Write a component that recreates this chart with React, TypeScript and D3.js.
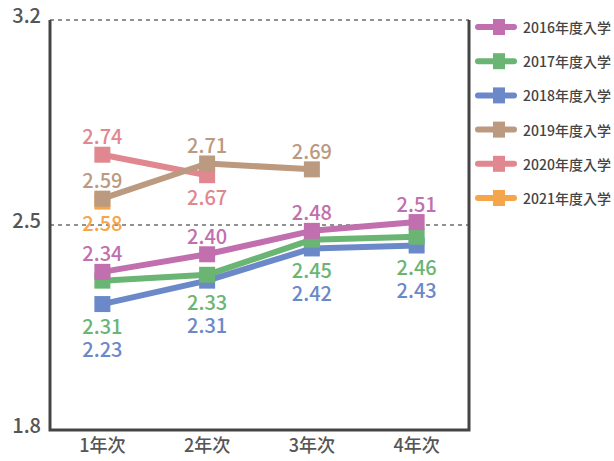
import React from "react";
import * as d3 from "d3";

const categories = ["1年次", "2年次", "3年次", "4年次"];
const seriesNames = ["2016年度入学", "2017年度入学", "2018年度入学", "2019年度入学", "2020年度入学", "2021年度入学"];
const s2016 = [2.34, 2.40, 2.48, 2.51];
const s2017 = [2.31, 2.33, 2.45, 2.46];
const s2018 = [2.23, 2.31, 2.42, 2.43];
const s2019 = [2.59, 2.71, 2.69];
const s2020 = [2.74, 2.67];
const s2021 = [2.58];
const seriesValues = [s2016, s2017, s2018, s2019, s2020, s2021];
const seriesColors = ["#c16fae", "#6ab574", "#6b89c9", "#bb9a80", "#e0878f", "#f5a54b"];
const labelSide = ["top", "bottom", "bottom", "top", "top", "bottom"];
const yTicks = [1.8, 2.5, 3.2];

const W = 614, H = 461;
const X0 = 50, X1 = 469, Y0 = 430, Y1 = 20;
const FONT = "'Noto Sans CJK JP', 'Noto Sans', sans-serif";

export default function App() {
  const x = d3.scaleBand<string>().domain(categories).range([X0, X1]);
  const cx = (c: string) => (x(c) as number) + x.bandwidth() / 2;
  const y = d3.scaleLinear().domain([1.8, 3.2]).range([Y0, Y1]);
  const line = d3.line<number>().x((_, i) => cx(categories[i])).y((v) => y(v));

  const MK = 8, LH = 10, GAP = 3, OFF_TOP = 19, OFF_BOT = 21;
  const markers: { ci: number; y: number }[] = [];
  seriesValues.forEach((vals) => vals.forEach((v, i) => markers.push({ ci: i, y: y(v) })));
  const placed: { ci: number; y: number; si: number; v: number }[] = [];
  const collides = (ci: number, ly: number) => {
    for (const m of markers) if (m.ci === ci && ly + LH > m.y - MK && ly - LH < m.y + MK) return true;
    for (const p of placed) if (p.ci === ci && ly + LH > p.y - LH && ly - LH < p.y + LH) return true;
    return false;
  };
  seriesValues.forEach((vals, si) => {
    vals.forEach((v, ci) => {
      const py = y(v);
      const top = py - OFF_TOP, bot = py + OFF_BOT;
      const pref = labelSide[si] === "top" ? top : bot;
      const alt = labelSide[si] === "top" ? bot : top;
      let ly = pref;
      if (collides(ci, pref)) {
        if (!collides(ci, alt)) ly = alt;
        else {
          const dir = labelSide[si] === "top" ? -1 : 1;
          let guard = 0;
          while (collides(ci, ly) && guard < 200) {
            let next = ly + dir;
            for (const m of markers)
              if (m.ci === ci && ly + LH > m.y - MK && ly - LH < m.y + MK)
                next = dir > 0 ? Math.max(next, m.y + MK + GAP + LH) : Math.min(next, m.y - MK - GAP - LH);
            for (const p of placed)
              if (p.ci === ci && ly + LH > p.y - LH && ly - LH < p.y + LH)
                next = dir > 0 ? Math.max(next, p.y + 2 * LH + GAP) : Math.min(next, p.y - 2 * LH - GAP);
            ly = next;
            guard++;
          }
        }
      }
      placed.push({ ci, y: ly, si, v });
    });
  });

  const order = seriesValues.map((_, i) => i).reverse();

  return (
    <svg width={W} height={H} style={{ position: "absolute", left: 0, top: 0, background: "#fff" }} fontFamily={FONT} fontWeight={500}>
      {[2.5, 3.2].map((t) => (
        <line key={t} x1={X0} x2={X1} y1={y(t)} y2={y(t)} stroke="#222" strokeWidth={1} strokeDasharray="4,4" />
      ))}
      <path d={`M${X0},${Y1}V${Y0}H${X1}V${Y1}`} fill="none" stroke="#444" strokeWidth={3} />
      {yTicks.map((t) => (
        <text key={t} x={41} y={y(t) - 2} textAnchor="end" dominantBaseline="middle" fontSize={20} fill="#555">
          {t.toFixed(1)}
        </text>
      ))}
      {categories.map((c) => (
        <text key={c} x={cx(c)} y={447} textAnchor="middle" dominantBaseline="middle" fontSize={18} fill="#555">
          {c}
        </text>
      ))}
      {order.map((si) => (
        <g key={si}>
          <path d={line(seriesValues[si]) || ""} fill="none" stroke={seriesColors[si]} strokeWidth={6} strokeLinejoin="round" />
          {seriesValues[si].map((v, i) => (
            <rect key={i} x={cx(categories[i]) - MK} y={y(v) - MK} width={2 * MK} height={2 * MK} fill={seriesColors[si]} />
          ))}
        </g>
      ))}
      {placed.map((p, k) => (
        <text key={k} x={cx(categories[p.ci])} y={p.y} textAnchor="middle" dominantBaseline="central" fontSize={20} fill={seriesColors[p.si]}>
          {p.v.toFixed(2)}
        </text>
      ))}
      {seriesNames.map((n, i) => {
        const ly = 27 + i * 34.2;
        return (
          <g key={n}>
            <line x1={478} x2={514} y1={ly} y2={ly} stroke={seriesColors[i]} strokeWidth={6} strokeLinecap="round" />
            <rect x={493} y={ly - 8} width={12} height={16} fill={seriesColors[i]} />
            <text x={523} y={ly} dominantBaseline="central" fontSize={14} fill="#444">
              {n}
            </text>
          </g>
        );
      })}
    </svg>
  );
}
